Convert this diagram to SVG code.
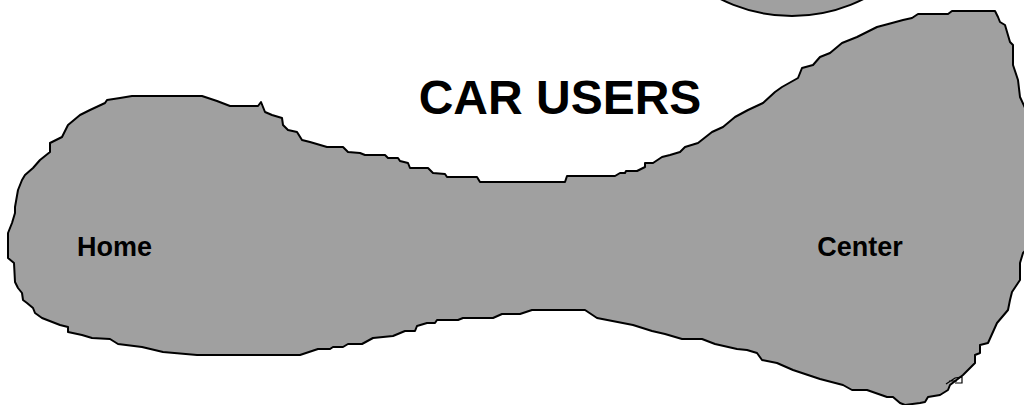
<svg xmlns="http://www.w3.org/2000/svg" width="1024" height="405" viewBox="0 0 1024 405">
<style>
.shape{fill:#a0a0a0;stroke:#000;stroke-width:2;stroke-linejoin:round}
.lbl{font-family:"Liberation Sans",Arial,sans-serif;font-weight:bold;fill:#000}
</style>
<rect width="1024" height="405" fill="#fff"/>
<g id="circle">
<circle class="shape" cx="792" cy="-143" r="159"/>
</g>
<g id="region">
<path class="shape" d="M 8,252 L 8,233 L 12,223 L 15,213 L 15,207 L 18,190 L 22,180 L 25,175 L 33,168 L 40,160 L 50,152 L 50,143 L 62,137 L 68,125 L 80,115 L 90,110 L 105,103 L 107,100 L 120,98 L 132,96 L 202,96 L 217,101 L 230,106 L 258,106 L 261,102 L 265,112 L 272,115 L 282,118 L 283,125 L 288,130 L 297,132 L 302,140 L 310,142 L 327,147 L 343,147 L 348,152 L 360,153 L 365,155 L 385,155 L 388,158 L 398,158 L 400,161 L 408,163 L 410,168 L 428,168 L 433,173 L 445,174 L 447,177 L 477,177 L 480,182 L 565,182 L 567,176 L 615,176 L 620,173 L 625,173 L 626,171 L 637,171 L 645,167 L 645,163 L 653,163 L 662,157 L 670,155 L 680,152 L 685,147 L 698,143 L 712,132 L 723,127 L 735,117 L 748,110 L 763,103 L 775,92 L 782,87 L 798,78 L 802,68 L 813,65 L 820,57 L 830,53 L 842,43 L 857,37 L 867,32 L 877,27 L 892,23 L 903,20 L 912,18 L 918,14 L 948,14 L 952,11 L 995,11 L 998,17 L 1000,22 L 1005,25 L 1010,42 L 1013,45 L 1013,65 L 1018,80 L 1020,97 L 1026,110 L 1026,250 L 1023,253 L 1020,263 L 1020,280 L 1012,292 L 1010,300 L 1008,310 L 997,323 L 988,343 L 980,345 L 980,353 L 975,355 L 975,363 L 963,375 L 950,385 L 948,390 L 940,395 L 928,397 L 925,402 L 920,403 L 905,405 L 900,403 L 893,397 L 887,397 L 867,390 L 852,390 L 843,385 L 820,379 L 793,370 L 777,363 L 762,360 L 757,353 L 747,350 L 737,349 L 715,344 L 702,339 L 682,339 L 665,334 L 652,331 L 633,325 L 597,318 L 585,310 L 532,310 L 520,314 L 502,314 L 493,318 L 463,318 L 458,320 L 437,320 L 435,323 L 427,323 L 417,326 L 415,331 L 405,331 L 393,336 L 373,338 L 362,344 L 348,344 L 343,347 L 333,347 L 330,349 L 318,349 L 300,355 L 197,355 L 163,352 L 142,347 L 118,344 L 110,339 L 92,338 L 82,335 L 68,332 L 68,327 L 60,325 L 42,318 L 35,313 L 33,308 L 27,303 L 23,300 L 22,293 L 18,288 L 15,282 L 14,263 L 8,258 Z"/>
<path d="M 946,384 L 955,378 L 962,377 L 962,383 L 955,383 M 949,381 L 957,381" fill="none" stroke="#000" stroke-width="1.2"/>
</g>
<g id="title"><text class="lbl" x="560" y="114" font-size="48" text-anchor="middle">CAR USERS</text></g>
<g id="home"><text class="lbl" x="77" y="256" font-size="27">Home</text></g>
<g id="center"><text class="lbl" x="860" y="256" font-size="27" text-anchor="middle">Center</text></g>
</svg>
